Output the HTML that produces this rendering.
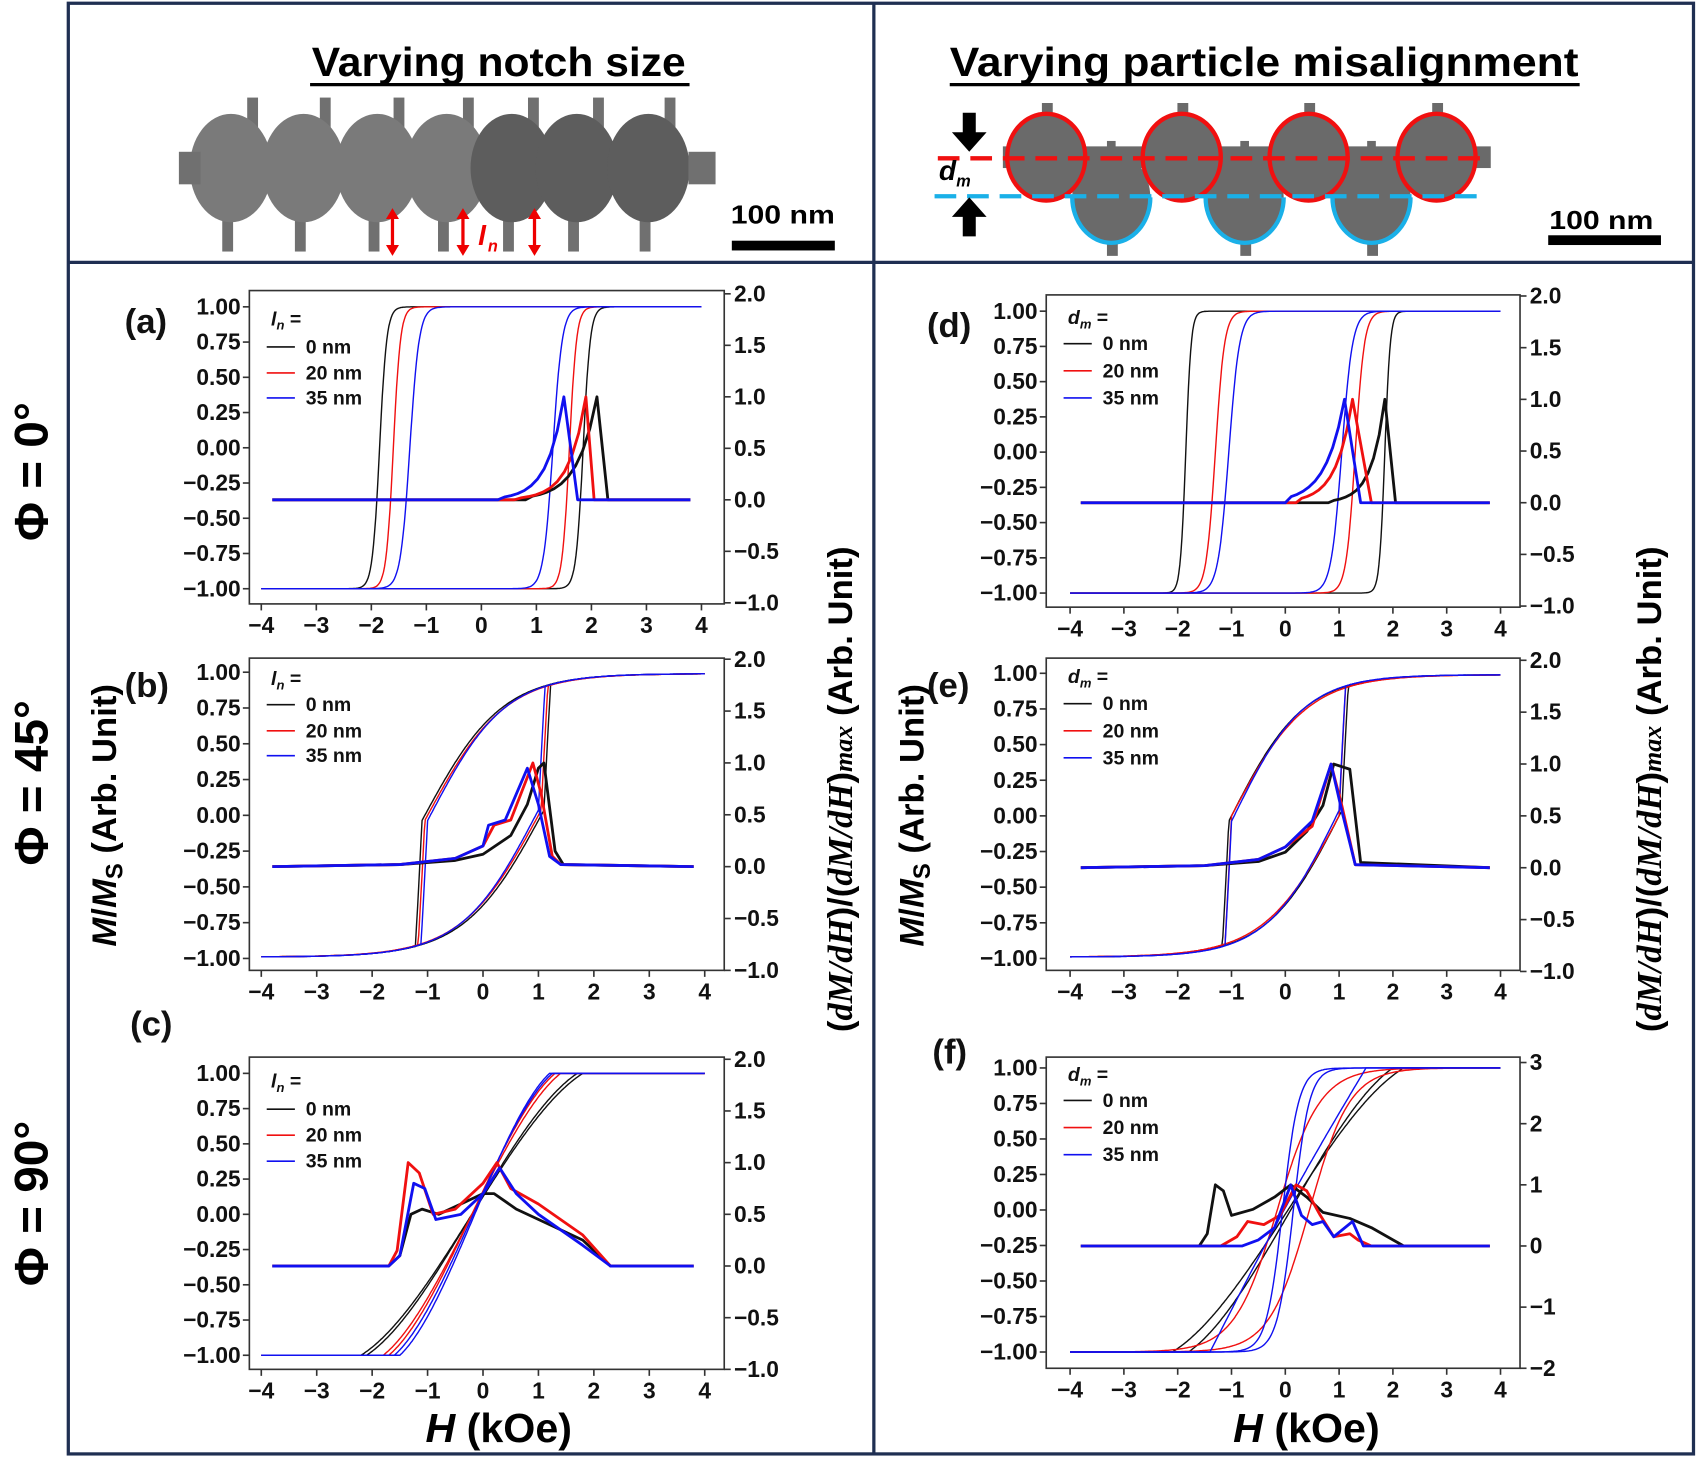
<!DOCTYPE html>
<html><head><meta charset="utf-8"><style>
html,body{margin:0;padding:0;background:#fff;}
svg{display:block;}
text{font-family:"Liberation Sans",sans-serif;}
.t{font-size:21px;font-weight:bold;fill:#111;}
.lg{font-size:18px;font-weight:bold;fill:#111;}
.pl{font-size:32px;font-weight:bold;fill:#111;}
</style></head><body>
<svg id="s" width="1700" height="1460" viewBox="0 0 1568 1346.6" preserveAspectRatio="none" xmlns="http://www.w3.org/2000/svg">
<rect x="0" y="0" width="1568" height="1347" fill="#fff"/>
<rect x="63" y="3" width="1499" height="1338" fill="none" stroke="#1f2f52" stroke-width="3"/>
<line x1="806" y1="3" x2="806" y2="1341" stroke="#1f2f52" stroke-width="3"/>
<line x1="63" y1="242" x2="1562" y2="242" stroke="#1f2f52" stroke-width="3"/>
<text x="460" y="70" text-anchor="middle" style="font-size:38px;font-weight:bold" textLength="345" lengthAdjust="spacingAndGlyphs">Varying notch size</text>
<line x1="286" y1="78" x2="636" y2="78" stroke="#000" stroke-width="3"/>
<text x="1166" y="70" text-anchor="middle" style="font-size:38px;font-weight:bold" textLength="580" lengthAdjust="spacingAndGlyphs">Varying particle misalignment</text>
<line x1="876" y1="78" x2="1457" y2="78" stroke="#000" stroke-width="3"/>
<g id="beadsL" fill="#707070"></g>
<g id="beadsR" fill="#6a6a6a"></g>
<text x="722" y="206" text-anchor="middle" style="font-size:24px;font-weight:bold" textLength="96" lengthAdjust="spacingAndGlyphs">100 nm</text>
<rect x="675" y="222" width="95" height="9" fill="#000"/>
<text x="1477" y="211" text-anchor="middle" style="font-size:24px;font-weight:bold" textLength="96" lengthAdjust="spacingAndGlyphs">100 nm</text>
<rect x="1428" y="217" width="104" height="9" fill="#000"/>
<g style="font-family:'Liberation Serif',serif;font-size:44px;font-weight:bold">
<text transform="translate(44,435) rotate(-90)" text-anchor="middle">Φ = 0°</text>
<text transform="translate(44,722) rotate(-90)" text-anchor="middle">Φ = 45°</text>
<text transform="translate(44,1110) rotate(-90)" text-anchor="middle">Φ = 90°</text>
</g>
<g style="font-size:32px;font-weight:bold">
<text transform="translate(107,752) rotate(-90)" text-anchor="middle"><tspan font-style="italic">M</tspan>/<tspan font-style="italic">M</tspan><tspan font-size="22" dy="6">S</tspan><tspan dy="-6"> (Arb. Unit)</tspan></text>
<text transform="translate(852,752) rotate(-90)" text-anchor="middle"><tspan font-style="italic">M</tspan>/<tspan font-style="italic">M</tspan><tspan font-size="22" dy="6">S</tspan><tspan dy="-6"> (Arb. Unit)</tspan></text>
<text transform="translate(786,728) rotate(-90)" text-anchor="middle">(<tspan font-style="italic" font-family="Liberation Serif">dM/dH</tspan>)/(<tspan font-style="italic" font-family="Liberation Serif">dM/dH</tspan>)<tspan font-style="italic" font-family="Liberation Serif" font-size="24">max</tspan> (Arb. Unit)</text>
<text transform="translate(1532,728) rotate(-90)" text-anchor="middle">(<tspan font-style="italic" font-family="Liberation Serif">dM/dH</tspan>)/(<tspan font-style="italic" font-family="Liberation Serif">dM/dH</tspan>)<tspan font-style="italic" font-family="Liberation Serif" font-size="24">max</tspan> (Arb. Unit)</text>
</g>
<g style="font-size:38px;font-weight:bold">
<text x="460" y="1330" text-anchor="middle"><tspan font-style="italic">H</tspan> (kOe)</text>
<text x="1205" y="1330" text-anchor="middle"><tspan font-style="italic">H</tspan> (kOe)</text>
</g>
<text class="pl" x="115" y="307">(a)</text>
<text class="pl" x="115" y="643">(b)</text>
<text class="pl" x="120" y="955">(c)</text>
<text class="pl" x="855" y="311">(d)</text>
<text class="pl" x="855" y="643">(e)</text>
<text class="pl" x="860" y="981">(f)</text>
<g id="panels"></g>
</svg>
<script>
var NS="http://www.w3.org/2000/svg";
function el(tag,attrs,parent,txt){var e=document.createElementNS(NS,tag);for(var k in attrs)e.setAttribute(k,attrs[k]);if(txt!==undefined)e.textContent=txt;parent.appendChild(e);return e;}
var bl=document.getElementById('beadsL');
var cx=[213,280,348,412,472,532,598];
cx.forEach(function(x,i){
 el('rect',{x:x+15,y:90,width:10,height:60},bl);
 el('rect',{x:x-8,y:150,width:10,height:82},bl);
 el('ellipse',{cx:x,cy:155,rx:38,ry:50,fill:i>3?'#5d5d5d':'#7a7a7a'},bl);
});
el('rect',{x:165,y:140,width:20,height:30},bl);el('rect',{x:635,y:140,width:25,height:30},bl);
[362,427,493].forEach(function(x){
 el('line',{x1:x,y1:200,x2:x,y2:228,stroke:'#e00',"stroke-width":3},bl);
 el('path',{d:'M'+(x-6)+' 202 L'+x+' 192 L'+(x+6)+' 202Z M'+(x-6)+' 226 L'+x+' 236 L'+(x+6)+' 226Z',fill:'#e00'},bl);
});
el('text',{x:441,y:226,style:'font-size:26px;font-weight:bold;font-style:italic;fill:#e00'},bl,'l');
el('text',{x:450,y:232,style:'font-size:15px;font-weight:bold;font-style:italic;fill:#e00'},bl,'n');
var br=document.getElementById('beadsR');
[965,1090,1207,1325].forEach(function(x){el('rect',{x:x-4,y:95,width:10,height:60},br);});
[1025,1148,1265].forEach(function(x){el('rect',{x:x-4,y:170,width:10,height:66},br);el('rect',{x:x-4,y:130,width:8,height:40},br);});
[1025,1148,1265].forEach(function(x){el('ellipse',{cx:x,cy:182,rx:36,ry:42},br);});
[965,1090,1207,1325].forEach(function(x){el('ellipse',{cx:x,cy:145,rx:36,ry:40},br);});
el('rect',{x:925,y:135,width:450,height:20},br);
[1025,1148,1265].forEach(function(x){el('path',{d:'M'+(x-36)+' 182 A36 42 0 0 0 '+(x+36)+' 182',fill:'none',stroke:'#1ab0e8',"stroke-width":4},br);});
[965,1090,1207,1325].forEach(function(x){el('ellipse',{cx:x,cy:145,rx:36,ry:40,fill:'none',stroke:'#f01010',"stroke-width":4},br);});
el('line',{x1:865,y1:146,x2:1372,y2:146,stroke:'#f01010',"stroke-width":4,"stroke-dasharray":"20 10"},br);
el('line',{x1:862,y1:181,x2:1370,y2:181,stroke:'#1ab0e8',"stroke-width":4,"stroke-dasharray":"20 10"},br);
el('path',{d:'M888 104 L900 104 L900 122 L910 122 L894 140 L878 122 L888 122Z',fill:'#000'},br);
el('path',{d:'M888 218 L900 218 L900 200 L910 200 L894 182 L878 200 L888 200Z',fill:'#000'},br);
el('text',{x:866,y:166,style:'font-size:26px;font-weight:bold;font-style:italic;fill:#000'},br,'d');
el('text',{x:882,y:172,style:'font-size:15px;font-weight:bold;font-style:italic;fill:#000'},br,'m');

var P=document.getElementById('panels');
function tanh(x){return Math.tanh(x);}
function range(a,b,n){var r=[];for(var i=0;i<=n;i++)r.push(a+(b-a)*i/n);return r;}
function panel(c){
 var g=el('g',{},P);
 var X=function(h){return c.xa+(h+4)*(c.xb-c.xa)/8;};
 var YL=function(m){return c.y1+(1-m)/2*(c.ym-c.y1);};
 var YR=function(d){return c.r0+(c.rmax-d)/(c.rmax-c.rmin)*(c.r1-c.r0);};
 el('rect',{x:c.x0,y:c.y0,width:c.x1-c.x0,height:c.y3-c.y0,fill:'none',stroke:'#333',"stroke-width":1.5},g);
 for(var i=0;i<=8;i++){var m=1-i*0.25,y=YL(m);
  el('line',{x1:c.x0-6,y1:y,x2:c.x0,y2:y,stroke:'#333',"stroke-width":1.5},g);
  el('text',{x:c.x0-8,y:y+7,"text-anchor":"end","class":"t"},g,(m<0?'\u2212':'')+Math.abs(m).toFixed(2));}
 c.rt.forEach(function(d){var y=YR(d);
  el('line',{x1:c.x1,y1:y,x2:c.x1+6,y2:y,stroke:'#333',"stroke-width":1.5},g);
  el('text',{x:c.x1+9,y:y+7,"class":"t"},g,(d<0?'\u2212':'')+Math.abs(d).toFixed(c.rdec));});
 for(var h=-4;h<=4;h++){var x=X(h);
  el('line',{x1:x,y1:c.y3,x2:x,y2:c.y3+6,stroke:'#333',"stroke-width":1.5},g);
  el('text',{x:x,y:c.y3+27,"text-anchor":"middle","class":"t"},g,(h<0?'\u2212':'')+Math.abs(h));}
 var cols=['#111','#f01010','#1010f0'];
 c.M.forEach(function(s,k){s.forEach(function(fn){
   var hs=range(-4,4,400),d='';hs.forEach(function(h,i){d+=(i?'L':'M')+X(h).toFixed(1)+' '+YL(fn(h)).toFixed(1);});
   el('path',{d:d,fill:'none',stroke:cols[k],"stroke-width":1.3},g);});});
 c.D.forEach(function(pts,k){
   var full=[[-3.8,0]].concat(pts).concat([[3.8,0]]);var d='';
   full.forEach(function(p,i){d+=(i?'L':'M')+X(p[0]).toFixed(1)+' '+YR(p[1]).toFixed(1);});
   el('path',{d:d,fill:'none',stroke:cols[k],"stroke-width":2.6,"stroke-linejoin":"round"},g);});
 var lt=el('text',{x:c.x0+20,y:c.leg[0],"class":"lg","font-style":"italic"},g);
 lt.innerHTML=c.sym;
 ['0 nm','20 nm','35 nm'].forEach(function(t,k){var y=c.leg[k+1];
  el('line',{x1:c.x0+16,y1:y-6,x2:c.x0+42,y2:y-6,stroke:cols[k],"stroke-width":1.5},g);
  el('text',{x:c.x0+52,y:y,"class":"lg"},g,t);});
}
function sq(hc,w){return [function(h){return tanh((h+hc)/w);},function(h){return tanh((h-hc)/w);}];}
function loop45(s,sc,jump){
 var desc=function(h){var a=0.99*tanh((h+s)/sc),b=-0.99*tanh((-h+s)/sc);var t=Math.min(1,Math.max(0,(h+jump+0.12)/0.12));return b+(a-b)*t;};
 var asc=function(h){return -desc(-h);};
 return [desc,asc];}
var lnSym='<tspan>l</tspan><tspan font-size="12" dy="4">n</tspan><tspan dy="-4" font-style="normal"> =</tspan>';
var dmSym='<tspan>d</tspan><tspan font-size="12" dy="4">m</tspan><tspan dy="-4" font-style="normal"> =</tspan>';
function pk(hp,s,drop,start){var r=[];var a=start;for(var i=0;i<=10;i++){var h=a+(hp-a)*i/10;r.push([h,Math.exp((h-hp)/s)*(i/10>0?1:0.0)]);}r.push([drop,0]);return r;}
function lin90(a,b,cv){return function(h){if(h<=a)return -1;if(h>=b)return 1;var t=(h-a)/(b-a);var v=-1+2*t;return v+cv*Math.sin(Math.PI*t)*0.1;};}
function sm90(a,b){return function(h){if(h<=a)return -1;if(h>=b)return 1;var t=(h-a)/(b-a);var s=t*t*(3-2*t);return -1+2*(0.5*s+0.5*t);};}
panel({x0:230,x1:668,y0:268,y3:557,xa:241,xb:647,y1:283,ym:543,r0:271,r1:556,rmax:2,rmin:-1,rt:[2,1.5,1,0.5,0,-0.5,-1],rdec:1,
 M:[sq(1.85,0.13),sq(1.6,0.13),sq(1.3,0.17)],
 D:[pk(2.1,0.35,2.3,0.8),pk(1.9,0.3,2.05,0.6),pk(1.5,0.3,1.75,0.3)],leg:[300,326,350,373],sym:lnSym});
panel({x0:230,x1:668,y0:607,y3:895,xa:241,xb:650,y1:620,ym:884,r0:608,r1:895,rmax:2,rmin:-1,rt:[2,1.5,1,0.5,0,-0.5,-1],rdec:1,
 M:[loop45(1.05,1.4,1.1),loop45(1.0,1.4,1.05),loop45(0.95,1.35,1.0)],
 D:[[[-1.5,0.02],[-0.5,0.06],[0,0.12],[0.5,0.3],[0.8,0.6],[1.0,0.95],[1.1,1.0],[1.3,0.15],[1.45,0.02]],
    [[-1.5,0.02],[-0.5,0.08],[0,0.2],[0.2,0.4],[0.5,0.45],[0.9,1.0],[1.05,0.7],[1.25,0.1],[1.4,0.02]],
    [[-1.5,0.02],[-0.5,0.08],[0,0.2],[0.1,0.4],[0.4,0.45],[0.8,0.95],[1.0,0.6],[1.2,0.1],[1.4,0.02]]],leg:[632,656,680,703],sym:lnSym});
panel({x0:230,x1:668,y0:975,y3:1263,xa:241,xb:650,y1:990,ym:1250,r0:977,r1:1263,rmax:2,rmin:-1,rt:[2,1.5,1,0.5,0,-0.5,-1],rdec:1,
 M:[[sm90(-2.2,1.8),sm90(-2.1,1.7)],[sm90(-1.8,1.4),sm90(-1.7,1.3)],[sm90(-1.6,1.25),sm90(-1.5,1.2)]],
 D:[[[-1.7,0],[-1.5,0.1],[-1.3,0.5],[-1.1,0.55],[-0.8,0.5],[-0.4,0.6],[0,0.7],[0.2,0.7],[0.6,0.55],[1.2,0.4],[1.8,0.25],[2.3,0]],
    [[-1.7,0],[-1.55,0.15],[-1.35,1.0],[-1.15,0.9],[-0.9,0.5],[-0.5,0.55],[0,0.8],[0.25,1.0],[0.5,0.75],[1.0,0.6],[1.8,0.3],[2.3,0]],
    [[-1.7,0],[-1.5,0.1],[-1.25,0.8],[-1.05,0.75],[-0.85,0.45],[-0.4,0.5],[0,0.7],[0.3,0.95],[0.6,0.7],[1.0,0.5],[1.8,0.2],[2.3,0]]],leg:[1003,1029,1053,1077],sym:lnSym});
panel({x0:965,x1:1402,y0:272,y3:560,xa:987,xb:1384,y1:287,ym:547,r0:273,r1:559,rmax:2,rmin:-1,rt:[2,1.5,1,0.5,0,-0.5,-1],rdec:1,
 M:[sq(1.85,0.1),sq(1.3,0.17),sq(1.05,0.2)],
 D:[pk(1.85,0.25,2.05,0.8),pk(1.25,0.3,1.6,0.2),pk(1.1,0.35,1.4,0.0)],leg:[299,323,348,373],sym:dmSym});
panel({x0:965,x1:1402,y0:607,y3:895,xa:987,xb:1384,y1:621,ym:884,r0:609,r1:896,rmax:2,rmin:-1,rt:[2,1.5,1,0.5,0,-0.5,-1],rdec:1,
 M:[loop45(1.0,1.35,1.05),loop45(1.0,1.4,1.0),loop45(0.95,1.3,1.0)],
 D:[[[-1.5,0.02],[-0.5,0.06],[0,0.15],[0.4,0.35],[0.7,0.6],[0.9,1.0],[1.2,0.95],[1.4,0.05]],
    [[-1.5,0.02],[-0.5,0.08],[0,0.2],[0.5,0.4],[0.85,1.0],[1.05,0.6],[1.3,0.03]],
    [[-1.5,0.02],[-0.5,0.08],[0,0.2],[0.5,0.45],[0.85,1.0],[1.05,0.55],[1.3,0.03]]],leg:[630,655,680,705],sym:dmSym});
panel({x0:965,x1:1402,y0:975,y3:1262,xa:987,xb:1384,y1:985,ym:1247,r0:980,r1:1262,rmax:3,rmin:-2,rt:[3,2,1,0,-1,-2],rdec:0,
 M:[[sm90(-2.1,2.2),sm90(-1.8,2.0)],[function(h){return tanh((h+0.15)/0.8);},function(h){return tanh((h-0.45)/0.75);}],
    [function(h){return tanh((h+0.05)/0.3);},function(h){return tanh((h-0.15)/0.3);},lin90(-1.4,1.5,0.5)]],
 D:[[[-1.6,0],[-1.45,0.2],[-1.3,1.0],[-1.15,0.9],[-1.0,0.5],[-0.6,0.6],[-0.2,0.8],[0.1,1.0],[0.4,0.8],[0.7,0.55],[1.2,0.45],[1.6,0.3],[2.2,0]],
    [[-1.2,0],[-0.9,0.15],[-0.7,0.4],[-0.4,0.35],[-0.1,0.5],[0.2,1.0],[0.4,0.9],[0.65,0.5],[0.9,0.15],[1.2,0.2],[1.35,0.1],[1.6,0]],
    [[-0.8,0],[-0.5,0.1],[-0.2,0.3],[0.1,1.0],[0.3,0.5],[0.5,0.35],[0.7,0.4],[0.9,0.15],[1.25,0.4],[1.45,0],[1.5,0]]],leg:[997,1021,1046,1071],sym:dmSym});
</script>
</body></html>
